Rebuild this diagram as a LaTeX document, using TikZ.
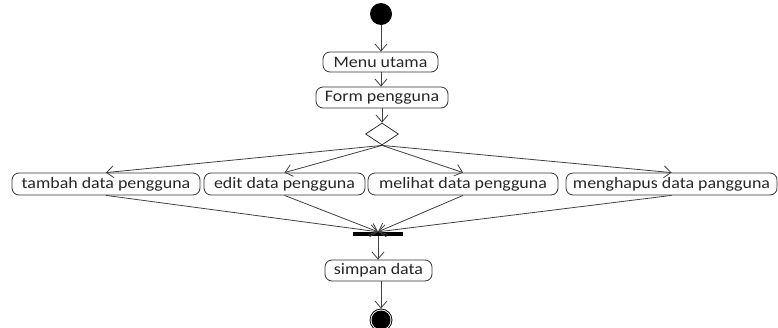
\documentclass[tikz,border=0pt]{standalone}
\usepackage{fontspec}
\setmainfont{Carlito}[FakeStretch=1.12]
\usetikzlibrary{arrows.meta,shapes.geometric}
\begin{document}
\begin{tikzpicture}[x=1pt,y=-1pt,
  act/.style={draw=black!80,line width=0.8pt,rounded corners=7pt,inner sep=0pt,
    font=\fontsize{16}{16}\selectfont,text=black!85},
  flow/.style={draw=black!75,line width=0.8pt,-{Straight Barb[length=7pt,width=12pt,line width=0.8pt]}},
  plain/.style={draw=black!75,line width=0.8pt}]
\useasboundingbox (0,0) rectangle (778,327);
\node[circle,fill=black,inner sep=0pt,minimum size=22pt] (start) at (381,14) {};
\node[act,minimum width=115pt,minimum height=20pt] (menu) at (380.5,62) {Menu utama};
\node[act,minimum width=132pt,minimum height=21pt] (form) at (382,97.5) {Form pengguna};
\node[diamond,draw=black!80,line width=0.8pt,inner sep=0pt,minimum width=33pt,minimum height=22pt] (dec) at (382,134) {};
\node[act,minimum width=188pt,minimum height=22pt] (tambah) at (106,184) {tambah data pengguna};
\node[act,minimum width=161pt,minimum height=22pt] (edit) at (284.5,184) {edit data pengguna};
\node[act,minimum width=190pt,minimum height=22pt] (lihat) at (463,184) {melihat data pengguna};
\node[act,minimum width=211pt,minimum height=22pt] (hapus) at (671.5,184) {menghapus data pangguna};
\node[rectangle,fill=black,inner sep=0pt,minimum width=50pt,minimum height=4pt] (bar) at (378,234) {};
\node[act,minimum width=107pt,minimum height=21pt] (simpan) at (378.5,270.5) {simpan data};
\node[circle,draw=black,line width=0.8pt,inner sep=0pt,minimum size=22pt] (end) at (381,320) {};
\node[circle,fill=black,inner sep=0pt,minimum size=19pt] (endin) at (381,320) {};
\draw[flow] (start) -- (menu.north -| start);
\draw[flow] (menu.south -| start) -- (form.north -| start);
\draw[flow] (form.south -| dec) -- (dec.north);
\foreach \n in {tambah,edit,lihat,hapus}{
  \draw[flow] (dec.south) -- (\n.north);
  \draw[flow] (\n.south) -- (bar.north);
}
\draw[flow] (bar.south) -- (simpan.north -| bar);
\draw[flow] (simpan.south -| end) -- (end.north);
\end{tikzpicture}
\end{document}
